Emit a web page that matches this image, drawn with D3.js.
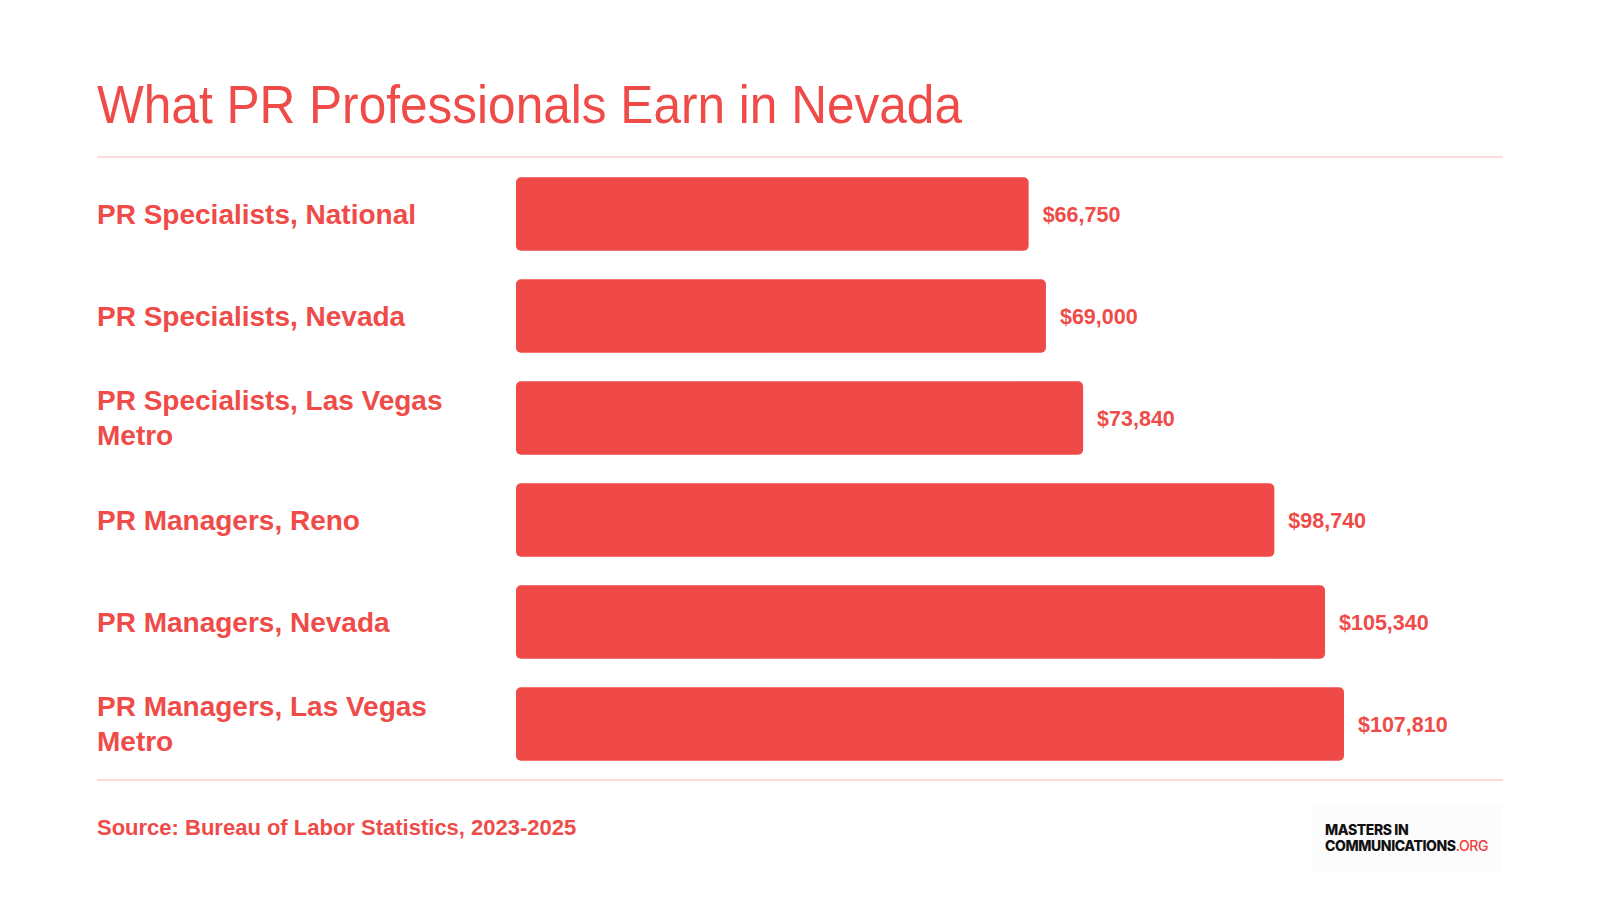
<!DOCTYPE html>
<html>
<head>
  <meta charset="UTF-8">
  <title>What PR Professionals Earn in Nevada</title>
  <style>
    body { margin: 0; background: #fff; }
    svg { display: block; }
    .title { font: 400 54px "Liberation Sans", Arial, sans-serif; fill: #ef4b48; }
    .cat { font: 700 28px "Liberation Sans", Arial, sans-serif; fill: #ef4b48; }
    .val { font: 700 21.5px "Liberation Sans", Arial, sans-serif; fill: #ef4b48; }
    .source { font: 700 22px "Liberation Sans", Arial, sans-serif; fill: #ef4b48; }
    .rule { stroke: #fbdcdc; stroke-width: 2; }
    .bar { fill: #ef4a47; }
    .logo { font: 800 14px Inter, "DejaVu Sans", sans-serif; fill: #111; letter-spacing: -0.4px; }
  </style>
</head>
<body>
  <div id="chart"></div>

  <script src="https://cdn.jsdelivr.net/npm/d3@7"></script>
  <script>
    // chart data
    const categories = [
      "PR Specialists, National",
      "PR Specialists, Nevada",
      "PR Specialists, Las Vegas Metro",
      "PR Managers, Reno",
      "PR Managers, Nevada",
      "PR Managers, Las Vegas Metro"
    ];
    const salaries = [66750, 69000, 73840, 98740, 105340, 107810];

    const titleText = "What PR Professionals Earn in Nevada";
    const sourceText = "Source: Bureau of Labor Statistics, 2023-2025";

    const width = 1600, height = 900;
    const left = 97, right = 1503;

    const svg = d3.select("#chart").append("svg")
      .attr("width", width)
      .attr("height", height);

    // title + rules (title font in the original is narrower, squeeze to fit)
    svg.append("text").attr("class", "title")
      .attr("x", left).attr("y", 123)
      .attr("textLength", 865)
      .attr("lengthAdjust", "spacingAndGlyphs")
      .text(titleText);

    svg.append("line").attr("class", "rule")
      .attr("x1", left).attr("x2", right)
      .attr("y1", 157).attr("y2", 157);

    svg.append("line").attr("class", "rule")
      .attr("x1", left).attr("x2", right)
      .attr("y1", 780).attr("y2", 780);

    // scales
    const x = d3.scaleLinear()
      .domain([0, d3.max(salaries)])
      .range([516, 1344]);

    const y = d3.scaleBand()
      .domain(categories)
      .range([163, 775])
      .paddingInner(0.28)
      .paddingOuter(0.14);

    const rows = categories.map((c, i) => ({ cat: c, value: salaries[i] }));

    const g = svg.append("g");

    g.selectAll("rect.bar")
      .data(rows)
      .join("rect")
      .attr("class", "bar")
      .attr("x", x(0))
      .attr("y", d => y(d.cat))
      .attr("width", d => x(d.value) - x(0))
      .attr("height", y.bandwidth())
      .attr("rx", 5);

    g.selectAll("text.val")
      .data(rows)
      .join("text")
      .attr("class", "val")
      .attr("x", d => x(d.value) + 14)
      .attr("y", d => y(d.cat) + y.bandwidth() / 2)
      .attr("dy", "0.35em")
      .text(d => "$" + d3.format(",")(d.value));

    // category labels, wrapped to fit the left column
    const maxLabel = 385;
    const lineH = 35;
    g.selectAll("text.cat")
      .data(rows)
      .join("text")
      .attr("class", "cat")
      .attr("x", left)
      .each(function (d) {
        const t = d3.select(this);
        const words = d.cat.split(" ");
        const lines = [];
        let cur = [];
        const probe = t.append("tspan");
        words.forEach(w => {
          const test = cur.concat(w).join(" ");
          probe.text(test);
          if (probe.node().getComputedTextLength() > maxLabel && cur.length) {
            lines.push(cur.join(" "));
            cur = [w];
          } else {
            cur.push(w);
          }
        });
        lines.push(cur.join(" "));
        probe.remove();
        const cy = y(d.cat) + y.bandwidth() / 2;
        const y0 = cy - (lines.length - 1) * lineH / 2;
        lines.forEach((ln, i) => {
          t.append("tspan")
            .attr("x", left)
            .attr("y", y0 + i * lineH)
            .attr("dy", "0.35em")
            .text(ln);
        });
      });

    // source
    svg.append("text").attr("class", "source")
      .attr("x", left).attr("y", 835)
      .text(sourceText);

    // logo
    svg.append("rect")
      .attr("x", 1312).attr("y", 806)
      .attr("width", 190).attr("height", 66)
      .attr("fill", "#fcfcfc");

    const logo = svg.append("text").attr("class", "logo")
      .attr("x", 1325).attr("y", 835);
    logo.append("tspan").text("MASTERS IN");
    const l2 = svg.append("text").attr("class", "logo")
      .attr("x", 1325).attr("y", 851);
    l2.append("tspan").text("COMMUNICATIONS");
    l2.append("tspan").attr("fill", "#ef3b3b").attr("font-weight", 500).text(".ORG");
  </script>
</body>
</html>
